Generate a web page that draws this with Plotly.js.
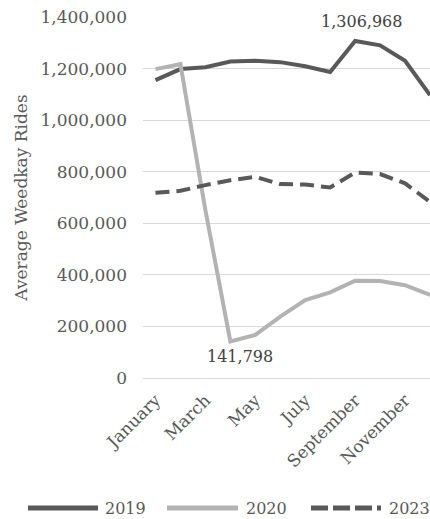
<!DOCTYPE html>
<html>
<head>
<meta charset="utf-8">
<script src="https://cdn.plot.ly/plotly-3.0.1.min.js"></script>
<style>
html, body { margin: 0; padding: 0; background: #fff; overflow: hidden; }
#chart { width: 430px; height: 519px; }
</style>
</head>
<body>
<div id="chart"></div>
<script>
const months = ["January","February","March","April","May","June","July","August","September","October","November","December"];
const seriesNames = ["2019", "2020", "2023"];
const rides2019 = [1155000, 1198000, 1205000, 1227000, 1230000, 1225000, 1209000, 1187000, 1306968, 1290000, 1230000, 1097000];
const rides2020 = [1198000, 1217000, 651000, 141798, 167000, 238000, 302000, 332000, 377000, 376000, 360000, 322000];
const rides2023 = [718000, 726000, 748000, 767000, 780000, 752000, 750000, 739000, 797000, 791000, 755000, 683000];
const yTicks = [0, 200000, 400000, 600000, 800000, 1000000, 1200000, 1400000];

const dark = "#595959", light = "#b3b3b3";
const font = "DejaVu Serif, serif";

const W = 430, H = 519, L = 143, R = 0, T = 17, B = 141;
const pw = W - L - R, ph = H - T - B;
const px = x => (x - L) / pw;
const py = y => (H - B - y) / ph;

const traces = [
  {x: months, y: rides2019, name: seriesNames[0], type: "scatter", mode: "lines",
   line: {color: dark, width: 4}},
  {x: months, y: rides2020, name: seriesNames[1], type: "scatter", mode: "lines",
   line: {color: light, width: 4}},
  {x: months, y: rides2023, name: seriesNames[2], type: "scatter", mode: "lines",
   line: {color: dark, width: 4, dash: "14px,7px"}}
];

const maxIdx = rides2019.indexOf(Math.max(...rides2019));
const minIdx = rides2020.indexOf(Math.min(...rides2020));

const annotations = [
  {x: months[maxIdx], y: rides2019[maxIdx], xref: "x", yref: "y", text: rides2019[maxIdx].toLocaleString("en-US"),
   showarrow: false, yanchor: "bottom", yshift: 8, xshift: 6, font: {family: font, size: 16, color: "#404040"}},
  {x: months[minIdx], y: rides2020[minIdx], xref: "x", yref: "y", text: rides2020[minIdx].toLocaleString("en-US"),
   showarrow: false, yanchor: "top", yshift: -4, xshift: 10, font: {family: font, size: 16, color: "#404040"}}
];

// custom legend
const legendY = py(508);
const legendItems = [
  {x0: 28, x1: 98, tx: 103, color: dark, dash: "solid"},
  {x0: 167, x1: 238, tx: 244, color: light, dash: "solid"},
  {x0: 311, x1: 381, tx: 387, color: dark, dash: "17px,5px"}
];
const shapes = legendItems.map(it => ({
  type: "line", xref: "paper", yref: "paper", x0: px(it.x0), x1: px(it.x1), y0: legendY, y1: legendY,
  line: {color: it.color, width: 5, dash: it.dash}
}));
legendItems.forEach((it, i) => annotations.push({
  xref: "paper", yref: "paper", x: px(it.tx), y: legendY, xanchor: "left", yanchor: "middle",
  text: seriesNames[i], showarrow: false, font: {family: font, size: 16, color: dark}
}));

const layout = {
  width: W, height: H,
  margin: {l: L, r: R, t: T, b: B, pad: 0},
  paper_bgcolor: "#fff", plot_bgcolor: "#fff",
  showlegend: false,
  font: {family: font, size: 17, color: dark},
  xaxis: {
    type: "category", categoryorder: "array", categoryarray: months,
    range: [-0.5, 11],
    tickvals: months.filter((m, i) => i % 2 === 0),
    tickangle: -45, ticks: "", showgrid: false, showline: false, zeroline: false,
    ticklabelstandoff: 8,
    tickfont: {family: font, size: 17, color: dark}
  },
  yaxis: {
    range: [0, 1400000], tickvals: yTicks,
    tickformat: ",d", ticks: "", showline: false,
    showgrid: true, gridcolor: "#d9d9d9", gridwidth: 1,
    zeroline: true, zerolinecolor: "#d9d9d9", zerolinewidth: 1,
    ticklabelstandoff: 15,
    tickfont: {family: font, size: 17, color: dark},
    title: {text: "Average Weedkay Rides", standoff: 8, font: {family: font, size: 17, color: dark}}
  },
  annotations: annotations,
  shapes: shapes
};

Plotly.newPlot("chart", traces, layout, {displayModeBar: false, staticPlot: true});
</script>
</body>
</html>
